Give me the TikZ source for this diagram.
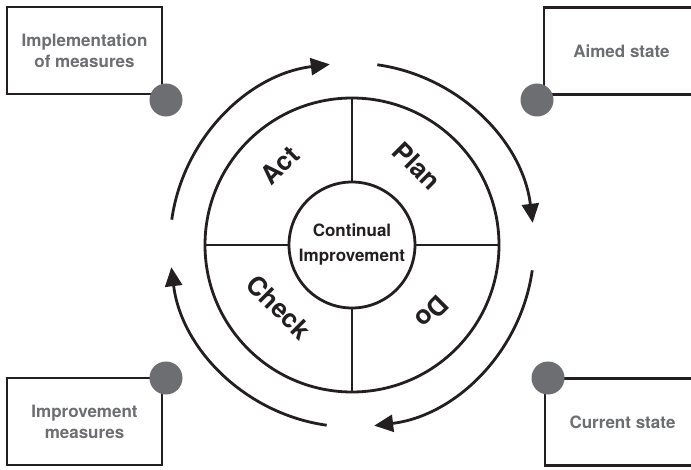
\documentclass[tikz,border=0pt]{standalone}
\usepackage{fontspec}
\setmainfont{TeX Gyre Heros}
\usetikzlibrary{arrows.meta,calc}
\definecolor{ink}{HTML}{231F20}
\definecolor{dotgray}{HTML}{6D6E71}
\definecolor{txtgray}{HTML}{6D6E71}
\begin{document}
\begin{tikzpicture}[x=1pt,y=1pt,
  lw/.style={line width=2.8pt, draw=ink},
  infobox/.style={lw, rectangle, minimum width=155pt, minimum height=87pt, inner sep=0pt, align=center, text=txtgray, font=\fontsize{17}{21}\selectfont\bfseries},
  dot/.style={circle, fill=dotgray, minimum size=33pt, inner sep=0pt},
  phase/.style={font=\fontsize{26}{30}\selectfont\bfseries, text=ink, inner sep=0pt},
  cyclearc/.style={lw, -{Triangle[length=19pt,width=17pt]}}
]
\useasboundingbox (0,0) rectangle (691,469);
\fill[white] (0,0) rectangle (691,469);

% info boxes
\node[infobox] (impl) at (84.5,418.5) {Implementation\\of measures};
\node[infobox] (aimed) at (621.5,418) {Aimed state};
\node[infobox] (impm) at (84.5,47.5) {Improvement\\measures};
\node[infobox] (curr) at (622.5,47) {Current state};

% dots
\node[dot] (d1) at (166,369) {};
\node[dot] (d2) at (537,369) {};
\node[dot] (d3) at (166,91) {};
\node[dot] (d4) at (548,91) {};

% central wheel
\coordinate (C) at (352,224);
\node[lw, circle, minimum size=294pt, inner sep=0pt] (outer) at (C) {};
\node[lw, circle, minimum size=126pt, inner sep=0pt, align=center, text=ink,
      font=\fontsize{17}{25}\selectfont\bfseries] (inner) at (C) {Continual\\Improvement};
\draw[lw] (outer.north) -- (inner.north);
\draw[lw] (outer.south) -- (inner.south);
\draw[lw] (outer.west) -- (inner.west);
\draw[lw] (outer.east) -- (inner.east);

\node[phase, rotate=45] (act) at (280,304) {Act};
\node[phase, rotate=-45] (plan) at (417,303) {Plan};
\node[phase, rotate=225] (do) at (432,157) {Do};
\node[phase, rotate=-45] (check) at (279,162) {Check};

% cycle arrows
\coordinate (a1) at ($(C)+(172:182)$);
\coordinate (a2) at ($(C)+(82:182)$);
\coordinate (a3) at ($(C)+(-8:182)$);
\coordinate (a4) at ($(C)+(-98:182)$);
\draw[cyclearc] (a1) arc[start angle=172, end angle=97, radius=182];
\draw[cyclearc] (a2) arc[start angle=82, end angle=7, radius=182];
\draw[cyclearc] (a3) arc[start angle=-8, end angle=-83, radius=182];
\draw[cyclearc] (a4) arc[start angle=-98, end angle=-173, radius=182];
\end{tikzpicture}
\end{document}
